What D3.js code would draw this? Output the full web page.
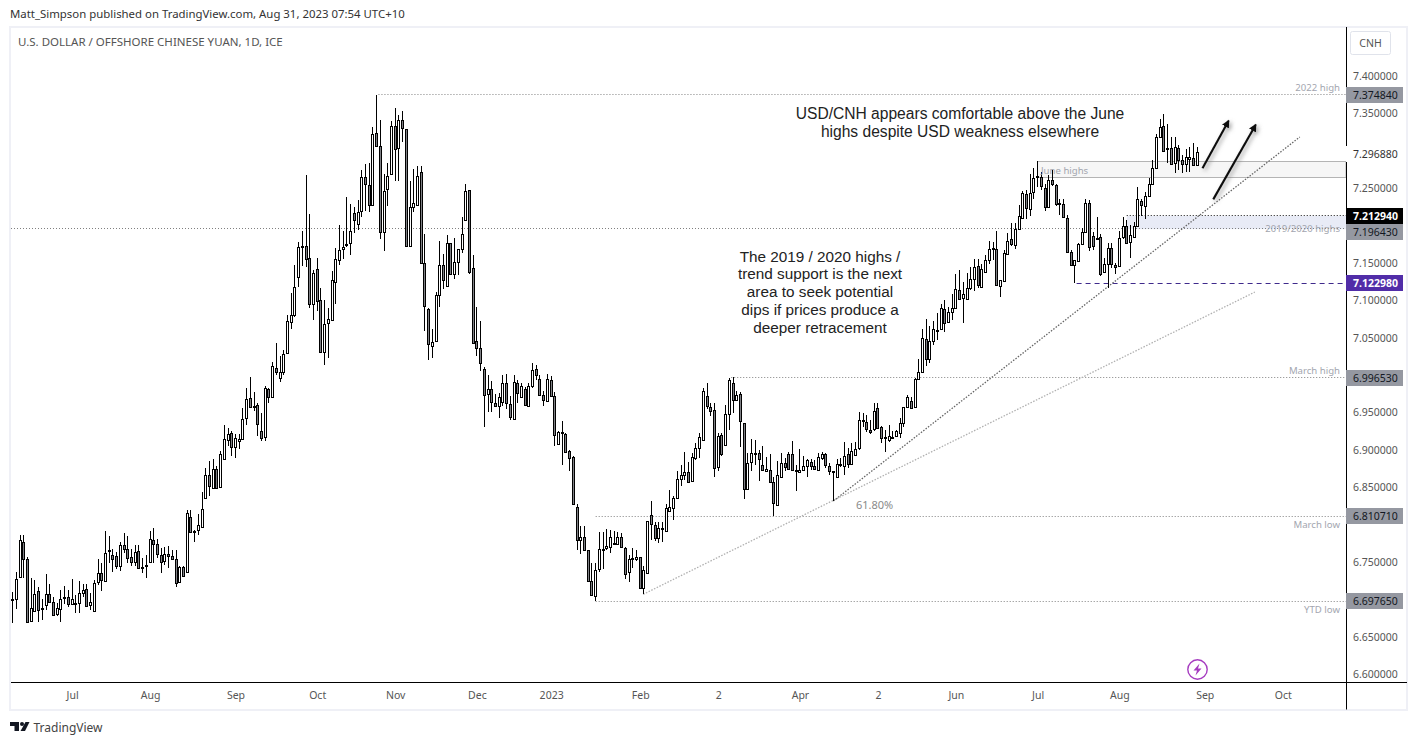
<!DOCTYPE html>
<html>
<head>
<meta charset="utf-8">
<title>USD/CNH</title>
<script src="https://cdn.jsdelivr.net/npm/d3@7"></script>
<style>
  html, body { margin: 0; padding: 0; background: #fff; }
  svg { display: block; }
  text { font-family: "Noto Sans", sans-serif; }
  .note { font-family: "Liberation Sans", Arial, sans-serif; fill: #222; text-anchor: middle; }
  .level-label { font-size: 9.6px; fill: #a3a6af; text-anchor: end; }
</style>
</head>
<body>
<script>
// daily candles, oldest first
var highs = [
  6.710,6.737,6.786,6.786,6.756,6.728,6.726,6.716,6.701,6.734,
  6.720,6.703,6.695,6.713,6.718,6.712,6.727,6.706,6.724,6.720,
  6.720,6.709,6.726,6.754,6.748,6.791,6.785,6.767,6.763,6.777,
  6.788,6.785,6.767,6.772,6.772,6.755,6.759,6.791,6.795,6.780,
  6.768,6.770,6.771,6.766,6.766,6.744,6.744,6.819,6.819,6.793,
  6.814,6.844,6.875,6.885,6.887,6.878,6.898,6.933,6.929,6.925,
  6.921,6.921,6.956,6.983,6.997,6.977,6.962,6.949,6.985,6.983,
  7.018,7.043,7.025,7.033,7.080,7.110,7.147,7.178,7.192,7.268,
  7.215,7.141,7.156,7.117,7.100,7.089,7.139,7.170,7.201,7.193,
  7.238,7.229,7.225,7.234,7.274,7.282,7.283,7.332,7.375,7.341,
  7.269,7.283,7.340,7.357,7.348,7.353,7.329,7.260,7.276,7.279,
  7.280,7.188,7.089,7.062,7.111,7.179,7.162,7.187,7.177,7.183,
  7.168,7.211,7.256,7.247,7.161,7.091,7.072,7.011,7.000,6.992,
  6.975,6.976,7.000,7.002,6.972,7.000,6.993,6.989,6.984,6.989,
  7.016,7.013,7.000,6.979,7.002,6.998,6.977,6.925,6.939,6.923,
  6.900,6.891,6.828,6.798,6.798,6.766,6.748,6.748,6.790,6.790,
  6.794,6.792,6.791,6.790,6.788,6.770,6.759,6.768,6.766,6.757,
  6.745,6.805,6.831,6.804,6.803,6.804,6.828,6.846,6.838,6.871,
  6.880,6.897,6.883,6.895,6.909,6.923,6.982,6.989,6.962,6.962,
  6.922,6.922,6.960,6.996,6.997,6.978,6.977,6.935,6.895,6.914,
  6.913,6.900,6.905,6.890,6.894,6.864,6.885,6.895,6.889,6.897,
  6.912,6.880,6.901,6.892,6.888,6.888,6.886,6.895,6.897,6.895,
  6.882,6.872,6.888,6.889,6.911,6.903,6.909,6.910,6.950,6.949,
  6.946,6.940,6.963,6.963,6.932,6.927,6.933,6.925,6.926,6.942,
  6.957,6.973,6.970,6.996,7.022,7.061,7.075,7.065,7.072,7.083,
  7.095,7.100,7.091,7.109,7.135,7.140,7.124,7.136,7.144,7.155,
  7.155,7.149,7.160,7.179,7.178,7.193,7.127,7.167,7.190,7.203,
  7.203,7.228,7.246,7.248,7.269,7.277,7.286,7.272,7.256,7.267,
  7.274,7.256,7.235,7.236,7.214,7.167,7.154,7.176,7.196,7.236,
  7.234,7.191,7.212,7.188,7.156,7.176,7.177,7.150,7.192,7.212,
  7.208,7.201,7.205,7.251,7.236,7.245,7.264,7.288,7.323,7.342,
  7.349,7.336,7.318,7.318,7.308,7.294,7.302,7.305,7.310,7.305
];
var lows = [
  6.668,6.687,6.729,6.729,6.668,6.670,6.683,6.670,6.672,6.686,
  6.695,6.677,6.678,6.670,6.694,6.690,6.693,6.681,6.682,6.703,
  6.690,6.685,6.683,6.719,6.711,6.723,6.749,6.737,6.741,6.738,
  6.762,6.749,6.745,6.745,6.741,6.735,6.729,6.748,6.749,6.755,
  6.735,6.746,6.742,6.752,6.717,6.722,6.730,6.735,6.789,6.777,
  6.786,6.796,6.834,6.838,6.848,6.848,6.849,6.887,6.905,6.892,
  6.889,6.901,6.914,6.933,6.957,6.952,6.919,6.912,6.912,6.963,
  6.969,7.000,6.991,7.000,7.028,7.062,7.078,7.118,7.146,7.145,
  7.090,7.073,7.085,7.030,7.014,7.023,7.073,7.095,7.147,7.155,
  7.171,7.160,7.190,7.194,7.211,7.220,7.218,7.227,7.305,7.182,
  7.166,7.226,7.268,7.260,7.260,7.312,7.172,7.172,7.218,7.226,
  7.149,7.059,7.020,7.023,7.046,7.091,7.115,7.119,7.134,7.129,
  7.134,7.163,7.206,7.135,7.042,7.026,7.006,6.931,6.951,6.951,
  6.958,6.943,6.958,6.955,6.940,6.941,6.963,6.970,6.958,6.957,
  6.982,6.993,6.973,6.958,6.964,6.971,6.905,6.907,6.880,6.895,
  6.872,6.826,6.766,6.760,6.764,6.723,6.705,6.698,6.737,6.741,
  6.766,6.762,6.773,6.773,6.768,6.727,6.723,6.742,6.751,6.714,
  6.707,6.735,6.779,6.778,6.775,6.777,6.790,6.817,6.806,6.834,
  6.851,6.860,6.856,6.857,6.886,6.889,6.912,6.955,6.945,6.864,
  6.871,6.891,6.905,6.926,6.949,6.965,6.904,6.834,6.847,6.871,
  6.880,6.858,6.872,6.871,6.856,6.812,6.825,6.862,6.872,6.873,
  6.872,6.845,6.869,6.872,6.864,6.873,6.873,6.872,6.886,6.875,
  6.866,6.831,6.862,6.877,6.866,6.876,6.880,6.893,6.900,6.931,
  6.924,6.921,6.925,6.928,6.909,6.897,6.910,6.914,6.917,6.916,
  6.931,6.956,6.955,6.956,6.993,7.003,7.012,7.016,7.040,7.047,
  7.060,7.057,7.070,7.074,7.089,7.101,7.069,7.101,7.114,7.113,
  7.117,7.116,7.137,7.148,7.154,7.119,7.105,7.125,7.161,7.173,
  7.168,7.195,7.209,7.209,7.213,7.235,7.252,7.247,7.219,7.223,
  7.253,7.226,7.214,7.210,7.163,7.146,7.123,7.151,7.175,7.190,
  7.166,7.167,7.180,7.132,7.137,7.117,7.143,7.135,7.145,7.182,
  7.175,7.156,7.184,7.198,7.213,7.209,7.238,7.254,7.276,7.317,
  7.298,7.283,7.282,7.270,7.274,7.270,7.271,7.272,7.280,7.280
];
var opens = [
  6.700,6.700,6.729,6.776,6.753,6.670,6.684,6.711,6.686,6.692,
  6.707,6.696,6.679,6.687,6.700,6.703,6.693,6.693,6.695,6.708,
  6.713,6.692,6.683,6.723,6.735,6.724,6.763,6.759,6.757,6.744,
  6.772,6.767,6.756,6.749,6.764,6.743,6.744,6.749,6.779,6.773,
  6.759,6.750,6.760,6.757,6.753,6.723,6.743,6.736,6.810,6.791,
  6.792,6.796,6.835,6.866,6.848,6.874,6.849,6.887,6.913,6.922,
  6.903,6.911,6.914,6.941,6.969,6.958,6.959,6.925,6.917,6.981,
  6.970,7.009,6.996,7.004,7.028,7.071,7.080,7.131,7.170,7.172,
  7.156,7.095,7.141,7.100,7.031,7.068,7.073,7.124,7.153,7.168,
  7.172,7.176,7.216,7.202,7.218,7.264,7.254,7.227,7.323,7.306,
  7.191,7.248,7.268,7.333,7.303,7.340,7.329,7.172,7.224,7.227,
  7.271,7.149,7.088,7.038,7.046,7.107,7.147,7.119,7.176,7.135,
  7.151,7.168,7.207,7.247,7.143,7.045,7.036,7.008,6.973,6.980,
  6.962,6.958,6.963,6.988,6.961,6.941,6.989,6.970,6.980,6.957,
  6.984,7.008,6.994,6.973,6.965,6.993,6.971,6.907,6.923,6.921,
  6.897,6.889,6.823,6.779,6.783,6.765,6.724,6.704,6.740,6.767,
  6.767,6.768,6.775,6.773,6.782,6.768,6.736,6.755,6.753,6.756,
  6.715,6.735,6.812,6.799,6.781,6.794,6.791,6.818,6.822,6.835,
  6.860,6.866,6.870,6.858,6.889,6.902,6.913,6.971,6.957,6.953,
  6.876,6.919,6.906,6.947,6.989,6.966,6.974,6.935,6.847,6.883,
  6.893,6.895,6.879,6.871,6.872,6.856,6.826,6.863,6.882,6.893,
  6.893,6.872,6.869,6.872,6.877,6.883,6.878,6.872,6.887,6.893,
  6.878,6.871,6.862,6.880,6.878,6.893,6.880,6.893,6.901,6.939,
  6.937,6.926,6.927,6.955,6.930,6.916,6.912,6.916,6.918,6.922,
  6.935,6.957,6.965,6.957,6.994,7.004,7.048,7.021,7.045,7.059,
  7.061,7.087,7.070,7.083,7.089,7.113,7.103,7.101,7.116,7.128,
  7.145,7.117,7.137,7.153,7.169,7.168,7.119,7.125,7.161,7.181,
  7.174,7.195,7.209,7.242,7.222,7.244,7.265,7.264,7.250,7.224,
  7.260,7.254,7.229,7.228,7.210,7.164,7.146,7.152,7.175,7.191,
  7.230,7.185,7.182,7.184,7.137,7.148,7.169,7.147,7.146,7.183,
  7.199,7.177,7.184,7.199,7.232,7.226,7.239,7.255,7.277,7.318,
  7.333,7.301,7.303,7.283,7.303,7.287,7.282,7.288,7.290,7.280
];
var closes = [
  6.698,6.727,6.779,6.753,6.669,6.687,6.707,6.685,6.687,6.707,
  6.696,6.679,6.687,6.700,6.702,6.693,6.700,6.694,6.708,6.712,
  6.690,6.696,6.721,6.735,6.725,6.761,6.765,6.753,6.743,6.772,
  6.767,6.755,6.749,6.763,6.741,6.742,6.745,6.780,6.773,6.759,
  6.749,6.760,6.757,6.753,6.721,6.743,6.731,6.815,6.790,6.790,
  6.799,6.820,6.866,6.851,6.874,6.848,6.893,6.914,6.921,6.903,
  6.915,6.914,6.941,6.967,6.957,6.957,6.933,6.915,6.982,6.970,
  7.012,7.003,7.004,7.028,7.071,7.080,7.117,7.171,7.172,7.155,
  7.095,7.136,7.098,7.030,7.068,7.074,7.127,7.155,7.167,7.171,
  7.174,7.192,7.207,7.218,7.264,7.254,7.227,7.322,7.306,7.191,
  7.246,7.266,7.332,7.302,7.340,7.329,7.172,7.224,7.230,7.266,
  7.149,7.091,7.041,7.044,7.107,7.147,7.127,7.176,7.134,7.151,
  7.168,7.188,7.246,7.137,7.042,7.036,7.016,6.973,6.980,6.962,
  6.958,6.970,6.989,6.961,6.943,6.990,6.975,6.985,6.959,6.984,
  7.006,7.000,6.973,6.966,6.994,6.971,6.919,6.923,6.921,6.897,
  6.887,6.826,6.779,6.783,6.765,6.724,6.705,6.739,6.767,6.767,
  6.770,6.782,6.774,6.782,6.768,6.733,6.753,6.753,6.756,6.715,
  6.739,6.804,6.800,6.781,6.794,6.792,6.822,6.823,6.835,6.860,
  6.866,6.870,6.856,6.890,6.902,6.917,6.978,6.957,6.951,6.876,
  6.918,6.893,6.947,6.992,6.966,6.973,6.938,6.847,6.882,6.895,
  6.895,6.887,6.872,6.874,6.856,6.828,6.866,6.882,6.877,6.873,
  6.872,6.871,6.872,6.878,6.885,6.877,6.874,6.890,6.893,6.878,
  6.871,6.870,6.880,6.878,6.891,6.880,6.897,6.901,6.939,6.937,
  6.928,6.923,6.951,6.928,6.915,6.915,6.918,6.915,6.925,6.935,
  6.957,6.970,6.955,6.994,7.004,7.049,7.021,7.045,7.061,7.060,
  7.089,7.068,7.083,7.089,7.115,7.101,7.108,7.116,7.128,7.144,
  7.119,7.141,7.153,7.168,7.168,7.120,7.127,7.163,7.179,7.174,
  7.195,7.212,7.243,7.223,7.243,7.263,7.264,7.252,7.224,7.260,
  7.254,7.228,7.227,7.210,7.164,7.146,7.153,7.175,7.191,7.230,
  7.171,7.172,7.181,7.135,7.148,7.169,7.148,7.144,7.183,7.198,
  7.176,7.187,7.199,7.235,7.226,7.239,7.255,7.276,7.318,7.331,
  7.299,7.303,7.282,7.305,7.287,7.282,7.291,7.291,7.280,7.297
];

// x axis, positions are candle numbers
var timeTicks = [16, 37, 60, 82, 103, 125, 145, 169, 190, 212, 233, 254, 276, 298, 321, 342];
var timeLabels = ['Jul', 'Aug', 'Sep', 'Oct', 'Nov', 'Dec', '2023', 'Feb', '2', 'Apr', '2', 'Jun', 'Jul', 'Aug', 'Sep', 'Oct'];
// the round prices hidden behind a price tag are left out
var priceTicks = [7.4, 7.35, 7.25, 7.15, 7.1, 7.05, 6.95, 6.9, 6.85, 6.75, 6.65, 6.6];

// horizontal levels: price, first candle, name
var levelPrices = [7.37484, 6.99653, 6.81071, 6.69765];
var levelStarts = [98.5, 193.5, 157, 157];
var levelNames = ['2022 high', 'March high', 'March low', 'YTD low'];
var priceTags = [7.37484, 6.99653, 6.81071, 6.69765];
var juneZone = [7.2862, 7.2648];
var juneZoneStart = 276;
var resistZone = [7.21294, 7.19643];
var resistZoneStart = 300;
var dashedLow = 7.12298;
var dashedStart = 286.5;
var lastPrice = 7.29688;

var trendA = [[221, 6.8314], [346.6, 7.3184]];
var trendB = [[169.8, 6.7066], [334.5, 7.111]];
var arrowA = [[320.4, 7.2765], [327.4, 7.3398]];
var arrowB = [[323.3, 7.235], [334.7, 7.3345]];

var width = 1418, height = 745;
var paneLeft = 11, paneRight = 1346, paneTop = 27, paneBottom = 682;

var svg = d3.select('body').append('svg').attr('width', width).attr('height', height);

var defs = svg.append('defs');
defs.append('filter').attr('id', 'shade')
  .attr('x', '-50%').attr('y', '-50%').attr('width', '200%').attr('height', '200%')
  .append('feDropShadow')
  .attr('dx', 2).attr('dy', 2).attr('stdDeviation', 2).attr('flood-color', '#777').attr('flood-opacity', 0.7);
defs.append('marker').attr('id', 'head')
  .attr('viewBox', '0 0 10 10').attr('refX', 8).attr('refY', 5)
  .attr('markerWidth', 3.6).attr('markerHeight', 3.6).attr('orient', 'auto')
  .append('path').attr('d', 'M0,0L10,5L0,10Z').attr('fill', '#111');

var x = d3.scaleLinear().domain([0, 319]).range([12.67, 1197.3]);
var y = d3.scaleLinear().domain([6.6, 7.4]).range([674, 76]);

function snap(v) { return Math.floor(v) + 0.5; }

// frame
svg.append('rect').attr('x', 10).attr('y', 27).attr('width', 1397).attr('height', 683)
  .attr('fill', '#fff').attr('stroke', '#eff0f6').attr('stroke-width', 2);

svg.append('text').attr('x', 10).attr('y', 18).attr('font-size', 11.4).attr('fill', '#333')
  .text('Matt_Simpson published on TradingView.com, Aug 31, 2023 07:54 UTC+10');
svg.append('text').attr('x', 18).attr('y', 45.5).attr('font-size', 11.5).attr('fill', '#555')
  .text('U.S. DOLLAR / OFFSHORE CHINESE YUAN, 1D, ICE');

// zones
svg.append('rect')
  .attr('x', snap(x(juneZoneStart))).attr('y', snap(y(juneZone[0])))
  .attr('width', paneRight - snap(x(juneZoneStart))).attr('height', Math.round(y(juneZone[1]) - y(juneZone[0])))
  .attr('fill', '#f6f6f6').attr('stroke', '#b4b4b4');
svg.append('rect')
  .attr('x', x(resistZoneStart)).attr('y', y(resistZone[0]))
  .attr('width', paneRight - x(resistZoneStart)).attr('height', y(resistZone[1]) - y(resistZone[0]) + 1)
  .attr('fill', '#e8ebf6');

// levels
svg.selectAll('.level').data(levelPrices).enter().append('line')
  .attr('class', 'level')
  .attr('x1', function (d, i) { return x(levelStarts[i]); })
  .attr('x2', paneRight)
  .attr('y1', function (d) { return snap(y(d)); })
  .attr('y2', function (d) { return snap(y(d)); })
  .attr('stroke', '#808080').attr('stroke-dasharray', '1,2');
svg.append('line').attr('x1', paneLeft).attr('x2', paneRight)
  .attr('y1', snap(y(resistZone[1]))).attr('y2', snap(y(resistZone[1])))
  .attr('stroke', '#808080').attr('stroke-dasharray', '1,2');
svg.append('line').attr('x1', x(resistZoneStart)).attr('x2', paneRight)
  .attr('y1', snap(y(resistZone[0]))).attr('y2', snap(y(resistZone[0])))
  .attr('stroke', '#111').attr('stroke-dasharray', '1,2');
svg.append('line').attr('x1', x(dashedStart)).attr('x2', paneRight)
  .attr('y1', snap(y(dashedLow))).attr('y2', snap(y(dashedLow)))
  .attr('stroke', '#3f2a8c').attr('stroke-dasharray', '5,4');

// trend lines
svg.append('line').attr('x1', x(trendB[0][0])).attr('y1', y(trendB[0][1]))
  .attr('x2', x(trendB[1][0])).attr('y2', y(trendB[1][1]))
  .attr('stroke', '#b0b0b0').attr('stroke-width', 1.3).attr('stroke-dasharray', '1.5,1.5');
svg.append('line').attr('x1', x(trendA[0][0])).attr('y1', y(trendA[0][1]))
  .attr('x2', x(trendA[1][0])).attr('y2', y(trendA[1][1]))
  .attr('stroke', '#666').attr('stroke-width', 1.3).attr('stroke-dasharray', '1.5,1.5');

// candles
var candles = svg.append('g').selectAll('g').data(d3.range(closes.length)).enter().append('g');

candles.append('line')
  .attr('x1', function (i) { return snap(x(i)); })
  .attr('x2', function (i) { return snap(x(i)); })
  .attr('y1', function (i) { return Math.round(y(highs[i])); })
  .attr('y2', function (i) { return Math.round(y(lows[i])); })
  .attr('stroke', '#000').attr('stroke-width', 1);

candles.append('rect')
  .attr('x', function (i) { return snap(x(i)) - 1; })
  .attr('y', function (i) { return snap(y(Math.max(opens[i], closes[i]))); })
  .attr('width', 2)
  .attr('height', function (i) { return Math.max(1, Math.round(Math.abs(y(opens[i]) - y(closes[i])))); })
  .attr('fill', function (i) { return closes[i] >= opens[i] ? '#fff' : '#7f8085'; })
  .attr('stroke', '#000').attr('stroke-width', 1);

// notes on the pane
levelNames.forEach(function (name, i) {
  var below = name === 'March low' || name === 'YTD low';
  svg.append('text').attr('class', 'level-label').attr('x', 1340)
    .attr('y', y(levelPrices[i]) + (below ? 12 : -4)).text(name);
});
svg.append('text').attr('class', 'level-label').attr('x', 1340).attr('y', y(resistZone[1]) + 4).text('2019/2020 highs');
svg.append('text').attr('class', 'level-label').attr('x', 1041).attr('y', y(juneZone[0]) + 12.5)
  .style('text-anchor', 'start').text('June highs');
svg.append('text').attr('x', 856).attr('y', 508.5).attr('font-size', 11).attr('fill', '#8a8a8a').text('61.80%');

var topNote = ['USD/CNH appears comfortable above the June', 'highs despite USD weakness elsewhere'];
var midNote = ['The 2019 / 2020 highs /', 'trend support is the next', 'area to seek potential', 'dips if prices produce a', 'deeper retracement'];
topNote.forEach(function (t, i) {
  svg.append('text').attr('class', 'note').attr('font-size', 15.6).attr('x', 960).attr('y', 118.5 + i * 18).text(t);
});
midNote.forEach(function (t, i) {
  svg.append('text').attr('class', 'note').attr('font-size', 15.3).attr('x', 820).attr('y', 261.5 + i * 17.8).text(t);
});

[arrowA, arrowB].forEach(function (a) {
  svg.append('line').attr('x1', x(a[0][0])).attr('y1', y(a[0][1]))
    .attr('x2', x(a[1][0])).attr('y2', y(a[1][1]))
    .attr('stroke', '#111').attr('stroke-width', 2.2)
    .attr('marker-end', 'url(#head)').attr('filter', 'url(#shade)');
});

// axes
var yAxis = d3.axisRight(y).tickValues(priceTicks).tickFormat(d3.format('.6f')).tickSize(0).tickPadding(7);
var yAxisG = svg.append('g').attr('transform', 'translate(' + paneRight + ',0)').call(yAxis);
yAxisG.select('.domain').remove();
yAxisG.selectAll('text').attr('font-size', 10.5).attr('fill', '#555').style('font-family', '"Noto Sans", sans-serif');
svg.append('line').attr('x1', paneRight + 0.5).attr('x2', paneRight + 0.5).attr('y1', paneTop).attr('y2', 709.5).attr('stroke', '#000');

var xAxis = d3.axisBottom(x).tickValues(timeTicks).tickFormat(function (d, i) { return timeLabels[i]; }).tickSize(0).tickPadding(10);
var xAxisG = svg.append('g').attr('transform', 'translate(0,' + paneBottom + ')').call(xAxis);
xAxisG.select('.domain').remove();
xAxisG.selectAll('text').attr('font-size', 10.5).attr('fill', '#555').style('font-family', '"Noto Sans", sans-serif');
svg.append('line').attr('x1', paneLeft).attr('x2', 1407).attr('y1', paneBottom + 0.5).attr('y2', paneBottom + 0.5).attr('stroke', '#000');

// price tags, nudge keeps neighbours from sitting on each other
function tag(price, fill, color, weight, nudge) {
  var cy = Math.round(y(price)) + (nudge || 0);
  svg.append('rect').attr('x', paneRight).attr('y', cy - 8).attr('width', 57).attr('height', 16).attr('fill', fill);
  svg.append('text').attr('x', 1353).attr('y', cy + 4).attr('font-size', 10.5)
    .attr('font-weight', weight || 400).attr('fill', color).text(d3.format('.6f')(price));
}
priceTags.forEach(function (p) { tag(p, '#9598a1', '#131722'); });
tag(resistZone[1], '#9598a1', '#131722', 400, 4);
tag(resistZone[0], '#000', '#fff', 700);
tag(dashedLow, '#512da8', '#fff', 700);
tag(lastPrice, '#fff', '#333', 400, 1);

// symbol button
svg.append('rect').attr('x', 1350.5).attr('y', 31.5).attr('width', 40).attr('height', 23).attr('rx', 2)
  .attr('fill', '#fff').attr('stroke', '#e0e3eb');
svg.append('text').attr('x', 1370.5).attr('y', 47).attr('font-size', 10.5).attr('fill', '#555').attr('text-anchor', 'middle').text('CNH');

// lightning mark
svg.append('circle').attr('cx', 1197.5).attr('cy', 669.5).attr('r', 9.7)
  .attr('fill', '#fff').attr('stroke', '#a63cc0').attr('stroke-width', 1.4);
svg.append('path').attr('d', 'M1199.5,663.5L1193.5,670.5L1197,670.5L1195.5,675.5L1201.5,668.5L1198,668.5Z').attr('fill', '#a63cc0');

// footer logo
svg.append('path').attr('d', 'M10,722H19V731H14.5V726H10Z').attr('fill', '#131722');
svg.append('circle').attr('cx', 22).attr('cy', 724).attr('r', 2).attr('fill', '#131722');
svg.append('path').attr('d', 'M25.5,722H29.5L25,731H20.5Z').attr('fill', '#131722');
svg.append('text').attr('x', 33.5).attr('y', 732).attr('font-size', 12).attr('fill', '#444').text('TradingView');
</script>
</body>
</html>
